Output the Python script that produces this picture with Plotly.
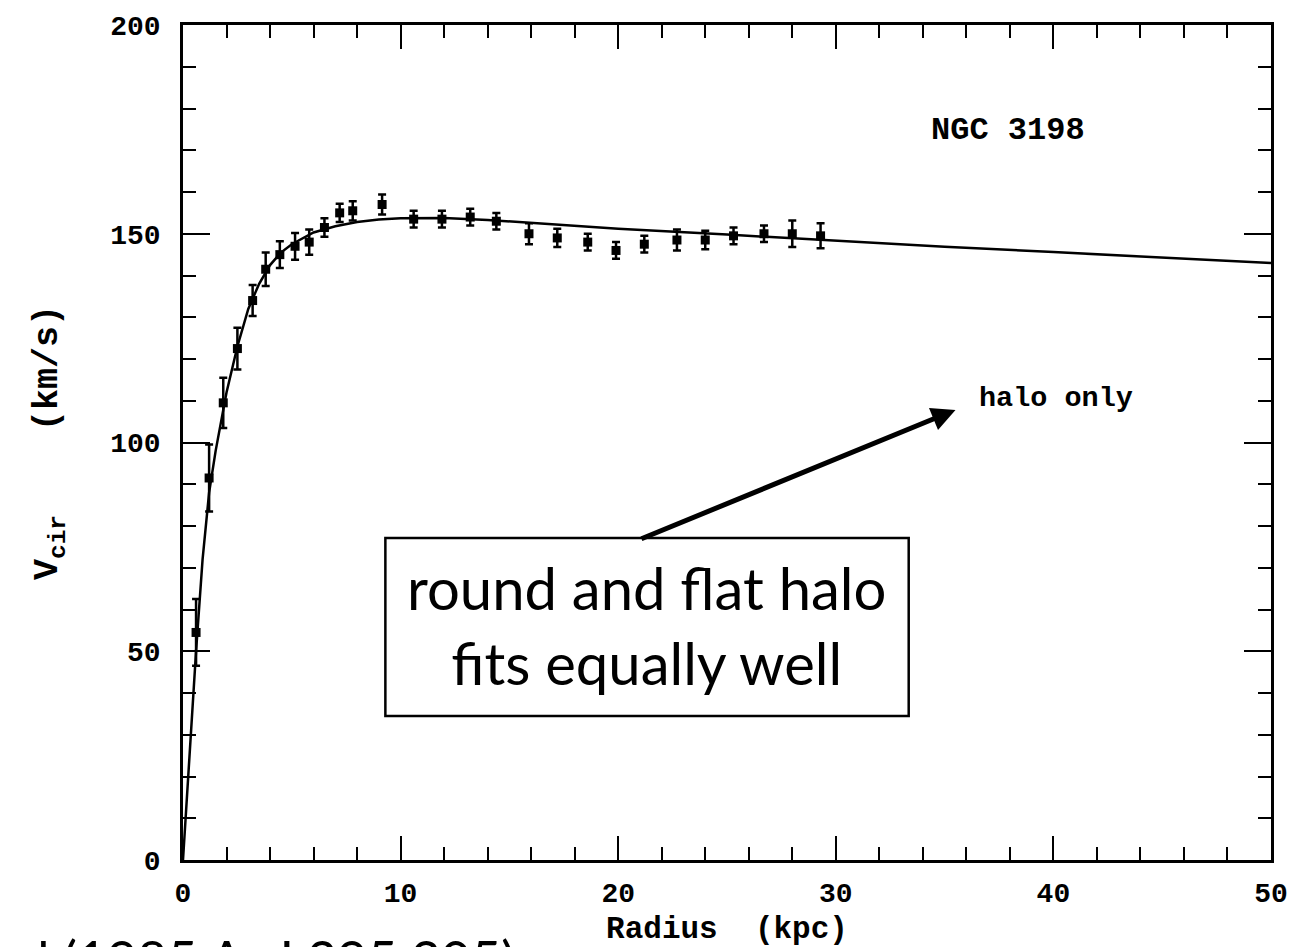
import plotly.graph_objects as go

# NGC 3198 rotation curve: measured circular velocities
radius_kpc = [0.6, 1.2, 1.85, 2.5, 3.2, 3.8, 4.45, 5.15, 5.8, 6.5, 7.2, 7.8, 9.15,
              10.6, 11.9, 13.2, 14.4, 15.9, 17.2, 18.6, 19.9, 21.2, 22.7, 24.0,
              25.3, 26.7, 28.0, 29.3]
vcir_kms = [54.5, 91.5, 109.5, 122.5, 134.0, 141.5, 145.0, 147.0, 148.0, 151.5,
            155.0, 155.5, 157.0, 153.5, 153.5, 154.0, 153.0, 150.0, 149.0, 148.0,
            146.0, 147.5, 148.5, 148.5, 149.5, 150.0, 150.0, 149.5]
vcir_err = [8.0, 8.0, 6.0, 5.0, 3.7, 4.0, 3.2, 3.2, 3.0, 2.2, 2.2, 2.3, 2.4,
            2.0, 2.0, 2.0, 2.0, 2.5, 2.2, 2.0, 2.0, 2.0, 2.5, 2.2, 2.0, 2.0,
            3.2, 3.0]

# halo-only model curve
model_r = [0, 0.3, 0.6, 0.9, 1.2, 1.5, 2, 2.5, 3, 3.5, 4, 4.5, 5, 6, 7, 8, 9,
           10, 12, 14, 17, 20, 25, 30, 35, 40, 45, 50]
model_v = [0, 25, 50, 72, 88, 98, 112, 123, 132, 138, 142.5, 145.5, 147.5,
           150.3, 151.8, 152.8, 153.4, 153.7, 153.8, 153.3, 152.3, 151.2,
           149.8, 148.3, 146.9, 145.6, 144.3, 143.0]

x_ticks = [0, 10, 20, 30, 40, 50]
y_ticks = [0, 50, 100, 150, 200]

MONO = "Liberation Mono, Courier New, monospace"
SANS = "Lato, Open Sans, sans-serif"

fig = go.Figure()

fig.add_trace(go.Scatter(
    x=model_r, y=model_v, mode="lines",
    line=dict(color="black", width=2.5),
    showlegend=False, hoverinfo="skip",
))

fig.add_trace(go.Scatter(
    x=radius_kpc, y=vcir_kms, mode="markers",
    marker=dict(color="black", size=9, symbol="square"),
    error_y=dict(type="data", array=vcir_err, visible=True,
                 color="black", thickness=2.5, width=4),
    showlegend=False,
))

axis_common = dict(
    showline=True, linecolor="black", linewidth=2.5, mirror="ticks",
    ticks="inside", tickcolor="black", tickwidth=2,
    showgrid=False, zeroline=False, automargin=False,
    tickfont=dict(family=MONO, size=28, color="black", weight="bold"),
)

fig.update_xaxes(
    **axis_common,
    range=[0, 50], tickvals=x_ticks, ticklen=24,
    ticklabelstandoff=6,
    minor=dict(dtick=2, ticks="inside", ticklen=13, tickwidth=2,
               tickcolor="black", showgrid=False),
    title=dict(text="Radius  (kpc)", standoff=10,
               font=dict(family=MONO, size=31, color="black", weight="bold")),
)
fig.update_yaxes(
    **axis_common,
    range=[0, 200], tickvals=y_ticks, ticklen=27,
    ticklabelstandoff=14,
    minor=dict(dtick=10, ticks="inside", ticklen=13, tickwidth=2,
               tickcolor="black", showgrid=False),
    title=dict(text="V<sub>cir</sub>    (km/s)", standoff=42,
               font=dict(family=MONO, size=35, color="black", weight="bold")),
)

# text labels inside the frame
fig.add_annotation(x=37.9, y=174.8, text="NGC 3198", showarrow=False,
                   font=dict(family=MONO, size=32, color="black", weight="bold"))
fig.add_annotation(x=40.1, y=110.6, text="halo only", showarrow=False,
                   font=dict(family=MONO, size=28.5, color="black", weight="bold"))

# call-out arrow pointing to the halo-only label
fig.add_annotation(x=35.5, y=107.8, ax=21.0, ay=76.8, axref="x", ayref="y",
                   xref="x", yref="y", text="", showarrow=True,
                   arrowhead=2, arrowsize=0.95, arrowwidth=5, arrowcolor="black",
                   standoff=0, startstandoff=0)

# boxed note
fig.add_shape(type="rect", xref="x", yref="y", x0=9.3, x1=33.35, y0=34.5, y1=77.1,
              line=dict(color="black", width=2.5), fillcolor="white", layer="above")
fig.add_annotation(x=21.3, y=56.3, xref="x", yref="y", showarrow=False,
                   text="round and flat halo<br>fits equally well",
                   align="center",
                   font=dict(family=SANS, size=58, color="black"))

# citation along the bottom edge
fig.add_annotation(xref="paper", yref="paper", x=0.307, y=-0.079,
                   xanchor="right", yanchor="top", showarrow=False,
                   text="van Albada et al (1985 ApJ 295 305)",
                   font=dict(family=SANS, size=52, color="black"))

fig.update_layout(
    width=1296, height=947,
    margin=dict(l=183, r=25, t=25, b=87),
    paper_bgcolor="white", plot_bgcolor="white",
)

fig.write_html("out.html")
